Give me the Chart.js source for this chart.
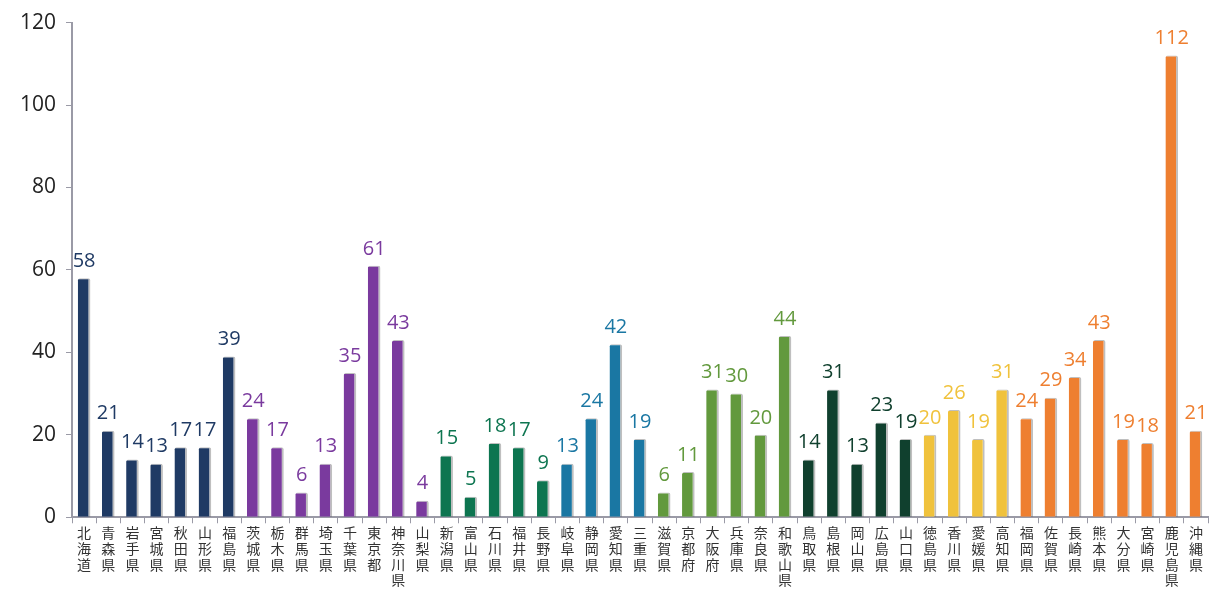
<!DOCTYPE html>
<html>
<head>
<meta charset="utf-8">
<script src="https://cdn.jsdelivr.net/npm/chart.js@4/dist/chart.umd.min.js"></script>
<style>
  html, body { margin: 0; padding: 0; background: #fff; }
  #wrap { width: 1210px; height: 590px; }
</style>
</head>
<body>
<div id="wrap"><canvas id="myChart" width="1210" height="590"></canvas></div>
<script>
var prefectures = ['北海道','青森県','岩手県','宮城県','秋田県','山形県','福島県',
  '茨城県','栃木県','群馬県','埼玉県','千葉県','東京都','神奈川県','山梨県',
  '新潟県','富山県','石川県','福井県','長野県',
  '岐阜県','静岡県','愛知県','三重県',
  '滋賀県','京都府','大阪府','兵庫県','奈良県','和歌山県',
  '鳥取県','島根県','岡山県','広島県','山口県',
  '徳島県','香川県','愛媛県','高知県',
  '福岡県','佐賀県','長崎県','熊本県','大分県','宮崎県','鹿児島県','沖縄県'];

var counts = [58, 21, 14, 13, 17, 17, 39,
  24, 17, 6, 13, 35, 61, 43, 4,
  15, 5, 18, 17, 9,
  13, 24, 42, 19,
  6, 11, 31, 30, 20, 44,
  14, 31, 13, 23, 19,
  20, 26, 19, 31,
  24, 29, 34, 43, 19, 18, 112, 21];

// region colour for each prefecture (how many in a row get each colour)
var regionSizes = [7, 8, 5, 4, 6, 5, 4, 8];
var regionColors = ['#1f3a64', '#7a3a9e', '#0d7550', '#1a77a3', '#62993d', '#10402e', '#f0c23c', '#ee7f30'];

var barColors = [];
regionSizes.forEach(function (n, i) {
  for (var k = 0; k < n; k++) barColors.push(regionColors[i]);
});

// draws the number above each bar in the bar's colour
var valueLabels = {
  id: 'valueLabels',
  afterDatasetsDraw: function (chart) {
    var ctx = chart.ctx;
    var meta = chart.getDatasetMeta(0);
    ctx.save();
    ctx.font = '20px "Open Sans", sans-serif';
    ctx.textAlign = 'center';
    ctx.textBaseline = 'bottom';
    meta.data.forEach(function (bar, i) {
      ctx.fillStyle = barColors[i];
      ctx.fillText(counts[i], bar.x, bar.y - 7);
    });
    ctx.restore();
  }
};

var ctx = document.getElementById('myChart').getContext('2d');
var myChart = new Chart(ctx, {
  type: 'bar',
  data: {
    labels: prefectures.map(function (p) { return p.split(''); }),
    datasets: [{
      data: counts,
      backgroundColor: barColors,
      borderColor: 'rgba(0,0,0,0.25)',
      borderWidth: { right: 2, top: 1 },
      borderSkipped: 'bottom',
      borderRadius: { topLeft: 2, topRight: 2 },
      barPercentage: 0.55,
      categoryPercentage: 0.95
    }]
  },
  options: {
    responsive: false,
    animation: false,
    layout: { padding: { top: 21, right: 2, left: 10, bottom: 0 } },
    plugins: {
      legend: { display: false },
      tooltip: { enabled: false }
    },
    scales: {
      x: {
        grid: { drawOnChartArea: false, drawTicks: true, tickLength: 6, color: '#9a9aa6' },
        border: { color: '#9a9aa6', width: 2 },
        ticks: {
          maxRotation: 0,
          autoSkip: false,
          color: '#333',
          font: { family: '"Noto Sans CJK JP", sans-serif', size: 14, lineHeight: 1.12 },
          padding: 2
        }
      },
      y: {
        min: 0,
        max: 120,
        ticks: {
          stepSize: 20,
          color: '#222',
          font: { family: '"Open Sans", sans-serif', size: 21 },
          padding: 10
        },
        grid: { drawOnChartArea: false, drawTicks: true, tickLength: 6, color: '#9a9aa6' },
        border: { color: '#9a9aa6', width: 2 }
      }
    }
  },
  plugins: [valueLabels]
});
</script>
</body>
</html>
